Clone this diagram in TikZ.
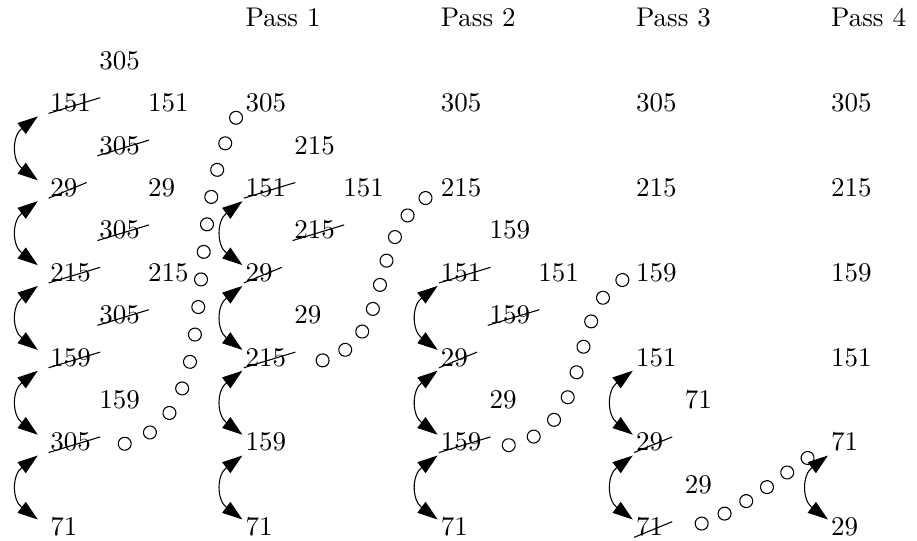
\documentclass[tikz,border=0pt]{standalone}
\usetikzlibrary{arrows.meta,decorations.markings}

\begin{document}
\begin{tikzpicture}[x=18.07pt, y=15.7pt, thin,
  cell/.style={anchor=base west, inner xsep=1pt, inner ysep=1.5pt, text height=1ex, text depth=0pt},
  struck/.style={append after command={([shift={(0.5pt,-0.6pt)}]\tikzlastnode.base west) edge[-] ([shift={(2.2pt,5.2pt)}]\tikzlastnode.base east)}},
  xchg/.style={{Triangle[length=7.5pt,width=5pt]}-{Triangle[length=7.5pt,width=5pt]}, out=217, in=143, looseness=1.3},
  trail/.style={decorate, decoration={markings, mark=between positions #1 with {\draw (0,0) circle (2.4pt);}}}]
\useasboundingbox (-17.5pt,10pt) rectangle (322.1pt,-190pt);
\begin{scope}[every node/.style={cell}]
\node (h1) at (4,0) {Pass 1};
\node (h2) at (8,0) {Pass 2};
\node (h3) at (12,0) {Pass 3};
\node (h4) at (16,0) {Pass 4};
% start
\node[struck] (p0r1) at (0,-2) {151};
\node[struck] (p0r2) at (0,-4) {29};
\node[struck] (p0r3) at (0,-6) {215};
\node[struck] (p0r4) at (0,-8) {159};
\node[struck] (p0r5) at (0,-10) {305};
\node (p0r6) at (0,-12) {71};
\node (m0a) at (1,-1) {305};
\node[struck] (m0b) at (1,-3) {305};
\node[struck] (m0c) at (1,-5) {305};
\node[struck] (m0d) at (1,-7) {305};
\node (m0e) at (1,-9) {159};
\node (s0a) at (2,-2) {151};
\node (s0b) at (2,-4) {29};
\node (s0c) at (2,-6) {215};
% pass 1
\node (p1r1) at (4,-2) {305};
\node[struck] (p1r2) at (4,-4) {151};
\node[struck] (p1r3) at (4,-6) {29};
\node[struck] (p1r4) at (4,-8) {215};
\node (p1r5) at (4,-10) {159};
\node (p1r6) at (4,-12) {71};
\node (m1a) at (5,-3) {215};
\node[struck] (m1b) at (5,-5) {215};
\node (m1c) at (5,-7) {29};
\node (s1a) at (6,-4) {151};
% pass 2
\node (p2r1) at (8,-2) {305};
\node (p2r2) at (8,-4) {215};
\node[struck] (p2r3) at (8,-6) {151};
\node[struck] (p2r4) at (8,-8) {29};
\node[struck] (p2r5) at (8,-10) {159};
\node (p2r6) at (8,-12) {71};
\node (m2a) at (9,-5) {159};
\node[struck] (m2b) at (9,-7) {159};
\node (m2c) at (9,-9) {29};
\node (s2a) at (10,-6) {151};
% pass 3
\node (p3r1) at (12,-2) {305};
\node (p3r2) at (12,-4) {215};
\node (p3r3) at (12,-6) {159};
\node (p3r4) at (12,-8) {151};
\node[struck] (p3r5) at (12,-10) {29};
\node[struck] (p3r6) at (12,-12) {71};
\node (m3a) at (13,-9) {71};
\node (m3b) at (13,-11) {29};
% pass 4
\node (p4r1) at (16,-2) {305};
\node (p4r2) at (16,-4) {215};
\node (p4r3) at (16,-6) {159};
\node (p4r4) at (16,-8) {151};
\node (p4r5) at (16,-10) {71};
\node (p4r6) at (16,-12) {29};
\end{scope}
\begin{scope}
\draw[xchg] ([xshift=-3.5pt]p0r1.south west) to ([xshift=-3.5pt]p0r2.north west);
\draw[xchg] ([xshift=-3.5pt]p0r2.south west) to ([xshift=-3.5pt]p0r3.north west);
\draw[xchg] ([xshift=-3.5pt]p0r3.south west) to ([xshift=-3.5pt]p0r4.north west);
\draw[xchg] ([xshift=-3.5pt]p0r4.south west) to ([xshift=-3.5pt]p0r5.north west);
\draw[xchg] ([xshift=-3.5pt]p0r5.south west) to ([xshift=-3.5pt]p0r6.north west);
\draw[xchg] (p1r2.south west) to (p1r3.north west);
\draw[xchg] (p1r3.south west) to (p1r4.north west);
\draw[xchg] (p1r4.south west) to (p1r5.north west);
\draw[xchg] (p1r5.south west) to (p1r6.north west);
\draw[xchg] (p2r3.south west) to (p2r4.north west);
\draw[xchg] (p2r4.south west) to (p2r5.north west);
\draw[xchg] (p2r5.south west) to (p2r6.north west);
\draw[xchg] (p3r4.south west) to (p3r5.north west);
\draw[xchg] (p3r5.south west) to (p3r6.north west);
\draw[xchg] (p4r5.south west) to (p4r6.north west);
\end{scope}
\begin{scope}
\path[trail={0.076 and 0.975 step 0.0685}] ([yshift=-0.8pt]p0r5.east) .. controls +(55.5pt,0pt) and +(-28pt,-48pt) .. (p1r1.west);
\path[trail={0.135 and 0.95 step 0.101}] ([yshift=-1.5pt]p1r4.east) .. controls +(46pt,0pt) and +(-32.2pt,-16.3pt) .. (p2r2.west);
\path[trail={0.098 and 0.96 step 0.107}] ([yshift=-0.8pt]p2r5.east) .. controls +(47pt,0pt) and +(-28.9pt,-9.3pt) .. (p3r3.west);
\path[trail={0.195 and 0.88 step 0.135}] (p3r6.east) .. controls +(22.2pt,0pt) and +(-16.7pt,-9.3pt) .. (p4r5.west);
\end{scope}
\end{tikzpicture}
\end{document}
